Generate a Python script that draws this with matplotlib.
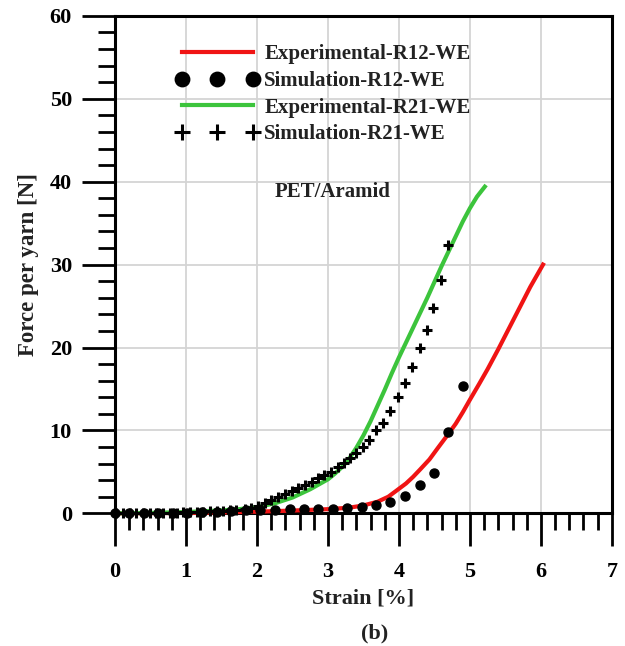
import matplotlib
matplotlib.use('Agg')
import matplotlib.pyplot as plt
from matplotlib.ticker import MultipleLocator

# Experimental R12 (red line)
strain_exp_r12 = [0, 0.5, 1.0, 1.5, 2.0, 2.5, 3.0, 3.3, 3.5, 3.7, 3.85, 3.96, 4.1, 4.2, 4.3, 4.43, 4.55,
                  4.69, 4.8, 4.9, 5.0, 5.13, 5.25, 5.4, 5.55, 5.7, 5.85, 6.03]
force_exp_r12 = [0, 0.02, 0.05, 0.1, 0.2, 0.33, 0.5, 0.68, 0.95, 1.4, 2.0, 2.7, 3.6, 4.4, 5.3, 6.5, 7.9,
                 9.5, 10.8, 12.2, 13.7, 15.6, 17.4, 19.8, 22.3, 24.8, 27.3, 30.0]

# Simulation R12 (circles)
strain_sim_r12 = [0.0, 0.2, 0.41, 0.61, 0.82, 1.02, 1.23, 1.43, 1.64, 1.84, 2.04, 2.25, 2.46, 2.66, 2.86,
                  3.07, 3.27, 3.48, 3.67, 3.87, 4.08, 4.29, 4.49, 4.69, 4.90]
force_sim_r12 = [0, 0, 0.02, 0.04, 0.06, 0.09, 0.13, 0.18, 0.25, 0.35, 0.4, 0.4, 0.48, 0.48, 0.48,
                 0.56, 0.68, 0.8, 1.0, 1.4, 2.1, 3.4, 4.83, 9.86, 15.3]

# Experimental R21 (green line)
strain_exp_r21 = [0, 0.5, 1.0, 1.5, 1.75, 2.0, 2.25, 2.5, 2.75, 3.0, 3.1, 3.2, 3.3, 3.4, 3.5, 3.6, 3.7,
                  3.8, 3.9, 4.0, 4.2, 4.4, 4.6, 4.7, 4.8, 4.9, 5.0, 5.1, 5.21]
force_exp_r21 = [0, 0.05, 0.15, 0.35, 0.5, 0.75, 1.2, 1.9, 2.9, 4.1, 4.8, 5.6, 6.6, 7.9, 9.4, 11.1, 13.0,
                 14.9, 16.9, 18.8, 22.4, 26.0, 29.8, 31.6, 33.4, 35.2, 36.8, 38.2, 39.4]

# Simulation R21 (plus markers)
strain_sim_r21 = [0.02, 0.11, 0.21, 0.30, 0.40, 0.49, 0.58, 0.68, 0.77, 0.87, 0.96, 1.05, 1.15, 1.24, 1.34,
                  1.43, 1.52, 1.62, 1.71, 1.83, 1.92, 2.02, 2.11, 2.20, 2.30, 2.39, 2.49, 2.58, 2.67, 2.77,
                  2.86, 2.95, 3.05, 3.14, 3.22, 3.31, 3.40, 3.49, 3.58, 3.67, 3.77, 3.88, 3.98, 4.08, 4.18,
                  4.29, 4.39, 4.48, 4.59, 4.69]
force_sim_r21 = [0, 0, 0.01, 0.01, 0.02, 0.03, 0.04, 0.05, 0.06, 0.08, 0.1, 0.12, 0.15, 0.18, 0.22,
                 0.26, 0.31, 0.36, 0.42, 0.48, 0.68, 0.88, 1.21, 1.61, 1.93, 2.33, 2.69, 3.02, 3.42, 3.82,
                 4.23, 4.63, 5.03, 5.56, 6.04, 6.64, 7.25, 7.97, 8.85, 10.06, 10.9, 12.3, 14.0, 15.7, 17.6,
                 20.0, 22.1, 24.8, 28.1, 32.4]

labels = ['Experimental-R12-WE', 'Simulation-R12-WE', 'Experimental-R21-WE', 'Simulation-R21-WE']

plt.rcParams['font.family'] = ['Liberation Serif', 'DejaVu Serif']
plt.rcParams['font.weight'] = 'bold'

fig = plt.figure(figsize=(6.25, 6.46), dpi=100)
ax = fig.add_axes([0.184, 0.2054, 0.795, 0.77])

ax.plot(strain_exp_r12, force_exp_r12, color='#f01414', lw=3, label=labels[0], zorder=3, clip_on=False)
ax.plot(strain_sim_r12, force_sim_r12, ls='none', marker='o', ms=6.5, color='black', label=labels[1], zorder=4, clip_on=False)
ax.plot(strain_exp_r21, force_exp_r21, color='#3cc43c', lw=3, label=labels[2], zorder=3, clip_on=False)
ax.plot(strain_sim_r21, force_sim_r21, ls='none', marker='+', ms=7, mew=2.2, color='black', label=labels[3], zorder=5, clip_on=False)

ax.set_xlim(0, 7)
ax.set_ylim(0, 60)
ax.xaxis.set_major_locator(MultipleLocator(1))
ax.xaxis.set_minor_locator(MultipleLocator(0.2))
ax.yaxis.set_major_locator(MultipleLocator(10))
ax.yaxis.set_minor_locator(MultipleLocator(2))

ax.grid(True, which='major', color='#d4d4d4', lw=1.3, zorder=0)
ax.set_axisbelow(True)

for s in ax.spines.values():
    s.set_linewidth(2.2)
    s.set_color('black')

ax.tick_params(which='major', direction='out', length=24, width=2, labelsize=16, pad=7)
ax.tick_params(which='minor', direction='out', length=12, width=2)
ax.tick_params(axis='x', which='major', pad=11)

ax.set_xlabel('Strain [%]', fontsize=16, fontweight='bold', labelpad=5, color='#222222')
ax.set_ylabel('Force per yarn [N]', fontsize=16.5, fontweight='bold', labelpad=8, color='#222222')

ax.text(3.07, 38.8, 'PET/Aramid', fontsize=15, fontweight='bold', ha='center', va='center', color='#222222')
fig.text(0.6, 0.02, '(b)', fontsize=16, fontweight='bold', ha='center', va='center', color='#222222')

leg = ax.legend(loc='upper left', bbox_to_anchor=(0.122, 0.943), frameon=False, fontsize=15,
                numpoints=3, handlelength=4.0, handletextpad=0.25, labelspacing=0.32,
                borderpad=0, borderaxespad=0, markerscale=1.6)
for t in leg.get_texts():
    t.set_color('#222222')

fig.savefig('out.png', dpi=100)
